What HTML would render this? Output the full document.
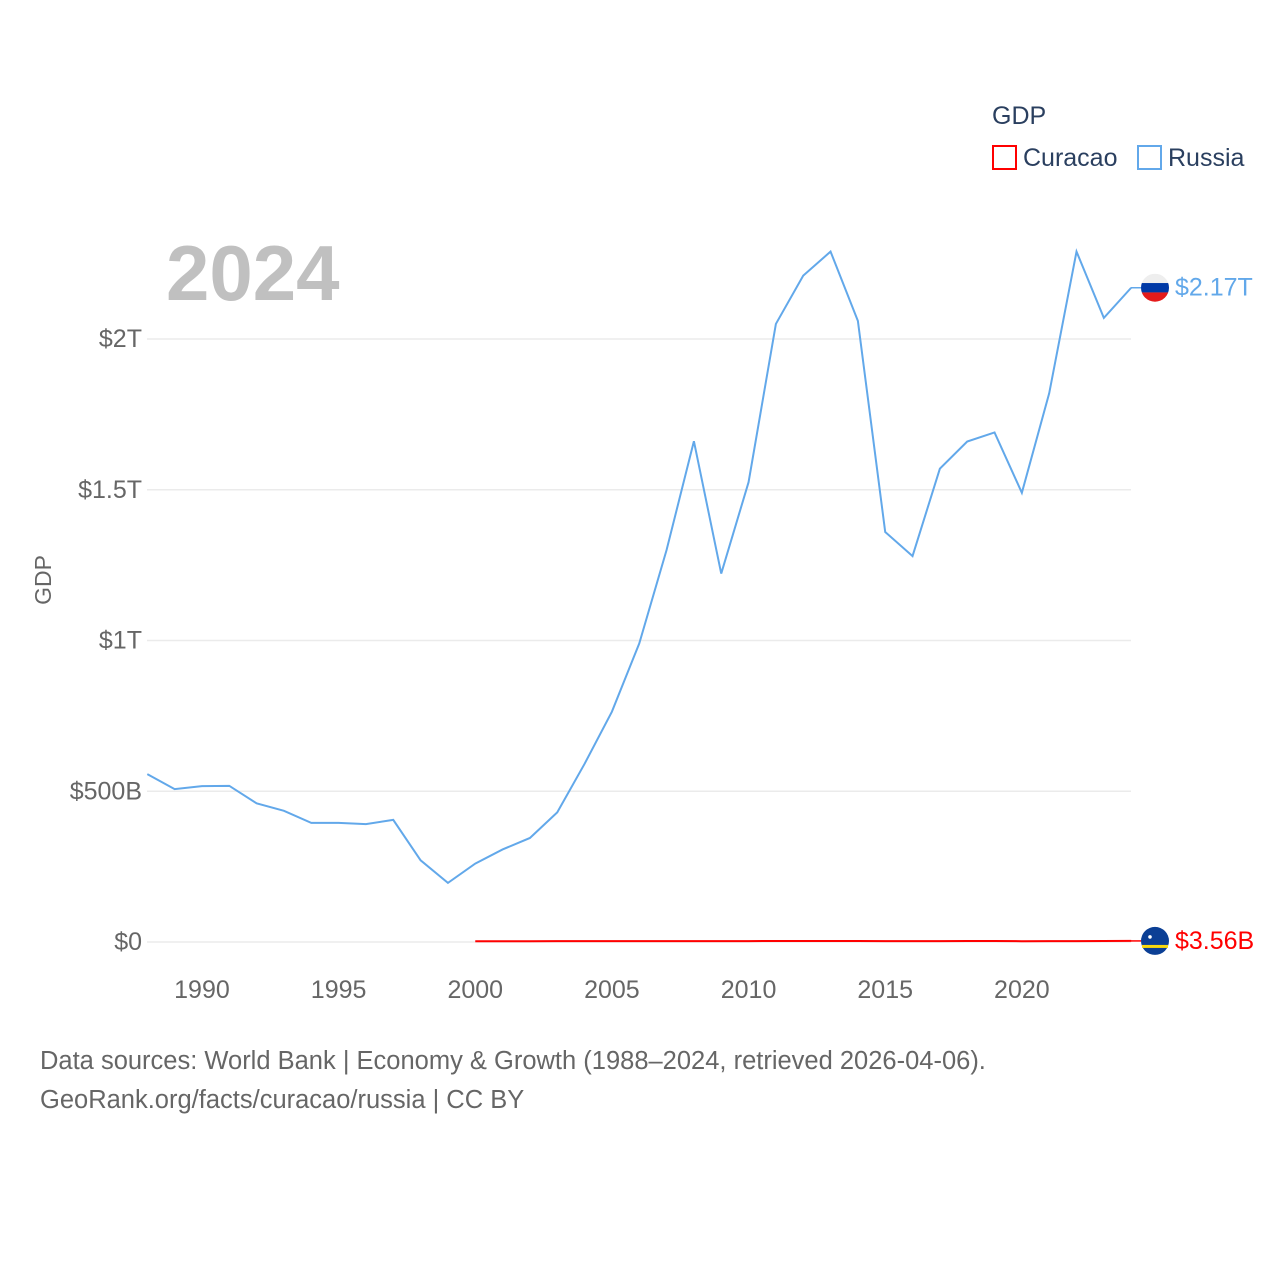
<!DOCTYPE html>
<html><head><meta charset="utf-8"><style>
body{margin:0;background:#fff;font-family:"Liberation Sans",sans-serif}
svg text{font-family:"Liberation Sans",sans-serif}
</style></head><body>
<svg id="chart" width="1280" height="1280" viewBox="0 0 1280 1280">
<text x="992" y="124" font-size="25" fill="#2a3f5f">GDP</text>
<g>
<rect x="993" y="146" width="23" height="23" fill="none" stroke="#ff0000" stroke-width="2"/>
<text x="1023" y="166" font-size="25" fill="#2a3f5f">Curacao</text></g>
<g>
<rect x="1138" y="146" width="23" height="23" fill="none" stroke="#62a8ea" stroke-width="2"/>
<text x="1168" y="166" font-size="25" fill="#2a3f5f">Russia</text></g>
<text x="166" y="300" font-size="78" font-weight="bold" fill="#c0c0c0">2024</text>
<text transform="translate(51,580) rotate(-90)" text-anchor="middle" font-size="23" fill="#666">GDP</text>
<g id="grid"></g><g id="series"></g>
<text x="40" y="1069" font-size="25.5" fill="#666">Data sources: World Bank | Economy &amp; Growth (1988–2024, retrieved 2026-04-06).</text>
<text x="40" y="1108" font-size="25.5" fill="#666">GeoRank.org/facts/curacao/russia | CC BY</text>
</svg>
<script>
const years=[];for(let y=1988;y<=2024;y++)years.push(y);
const russia=[0.557,0.507,0.517,0.518,0.460,0.435,0.395,0.395,0.391,0.405,0.271,0.196,0.260,0.307,0.345,0.430,0.591,0.764,0.990,1.300,1.661,1.222,1.525,2.05,2.21,2.29,2.06,1.36,1.28,1.57,1.66,1.69,1.49,1.82,2.29,2.07,2.17];
const curacaoYears=[2000,2001,2002,2003,2004,2005,2006,2007,2008,2009,2010,2011,2012,2013,2014,2015,2016,2017,2018,2019,2020,2021,2022,2023,2024];
const curacao=[0.0025,0.0025,0.0026,0.0027,0.0027,0.0028,0.0029,0.003,0.0031,0.0031,0.0031,0.0032,0.0032,0.0032,0.0032,0.0031,0.0031,0.0031,0.0032,0.0032,0.0026,0.0028,0.0031,0.0034,0.00356];
const yTicks=[0,0.5,1,1.5,2];const yTickLabels=["$0","$500B","$1T","$1.5T","$2T"];
const xTicks=[1990,1995,2000,2005,2010,2015,2020];
const X=y=>147.3+(y-1988)*27.33, Y=v=>942-v*301.5;
const ns="http://www.w3.org/2000/svg",g=document.getElementById('grid'),s=document.getElementById('series');
function mk(p,tag,a,t){const e=document.createElementNS(ns,tag);for(const k in a)e.setAttribute(k,a[k]);if(t)e.textContent=t;p.appendChild(e);return e;}
yTicks.forEach((v,i)=>{
 const l=mk(g,'line',{x1:147,x2:1131,y1:Y(v),y2:Y(v),stroke:'#ebebeb','stroke-width':1.5});
 
 
 const t=mk(g,'text',{x:142,y:Y(v)+8,'text-anchor':'end','font-size':25,fill:'#666'},yTickLabels[i]);
 
 
});
xTicks.forEach(y=>{
 const t=mk(g,'text',{x:X(y),y:998,'text-anchor':'middle','font-size':25,fill:'#666'},String(y));
 
 
});
const rp=mk(s,'polyline',{points:years.map((y,i)=>X(y)+','+Y(russia[i])).join(' '),fill:'none',stroke:'#62a8ea','stroke-width':2});


const cp=mk(s,'polyline',{points:curacaoYears.map((y,i)=>X(y)+','+Y(curacao[i])).join(' '),fill:'none',stroke:'#ff0000','stroke-width':2});


const ry=Y(russia[russia.length-1]), cy=Y(curacao[curacao.length-1]);
mk(s,'line',{x1:1131,x2:1141,y1:ry,y2:ry,stroke:'#62a8ea','stroke-width':1.5});
mk(s,'line',{x1:1131,x2:1141,y1:cy,y2:cy,stroke:'#ff0000','stroke-width':1.5});
const rf=mk(s,'g',{});


mk(rf,'clipPath',{id:'rc'});mk(rf.lastChild,'circle',{cx:1155,cy:ry,r:14});
mk(rf,'rect',{x:1141,y:ry-14,width:28,height:10,fill:'#eee','clip-path':'url(#rc)'});
mk(rf,'rect',{x:1141,y:ry-4.7,width:28,height:9.4,fill:'#0039a6','clip-path':'url(#rc)'});
mk(rf,'rect',{x:1141,y:ry+4.7,width:28,height:10,fill:'#e51b1b','clip-path':'url(#rc)'});
const cf=mk(s,'g',{});


mk(cf,'circle',{cx:1155,cy:cy,r:14,fill:'#0b3f95'});
mk(cf,'rect',{x:1142,y:cy+4,width:26,height:3,fill:'#f9d90f'});
mk(cf,'circle',{cx:1150,cy:cy-4,r:1.8,fill:'#fff'});
const rl=mk(s,'text',{x:1175,y:ry+8,'font-size':25,fill:'#62a8ea'},'$2.17T');


const cl=mk(s,'text',{x:1175,y:cy+8,'font-size':25,fill:'#ff0000'},'$3.56B');


</script></body></html>
